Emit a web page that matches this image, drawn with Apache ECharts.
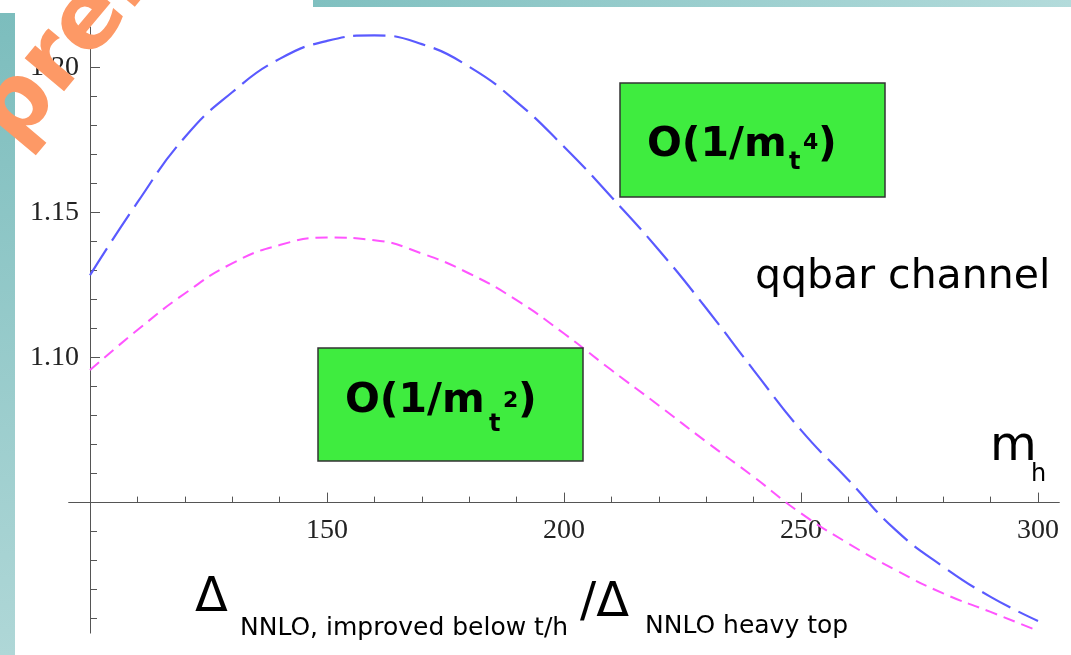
<!DOCTYPE html>
<html>
<head>
<meta charset="utf-8">
<script src="https://cdn.jsdelivr.net/npm/echarts@6/dist/echarts.min.js"></script>
<style>
html,body{margin:0;padding:0;background:#fff;}
#c{width:1071px;height:655px;}
</style>
</head>
<body>
<div id="c"></div>
<script>
// Higgs mass m_h (GeV)
const mh = [100,110,120,130,140,150,160,170,180,190,200,210,220,230,240,250,260,270,280,290,300];
// O(1/m_t^4) ratio (blue, long dash)
const ratioO4 = [1.1284,1.1535,1.1760,1.1915,1.2030,1.2092,1.2111,1.2081,1.2003,1.1882,1.1727,1.1554,1.1371,1.1170,1.0957,1.0750,1.0578,1.0405,1.0279,1.0175,1.0092];
// O(1/m_t^2) ratio (magenta, short dash)
const ratioO2 = [1.0957,1.1095,1.1221,1.1325,1.1388,1.1414,1.1405,1.1359,1.1290,1.1198,1.1083,1.0957,1.0835,1.0710,1.0589,1.0463,1.0359,1.0267,1.0187,1.0123,1.0058];
// tick values
const yMajorTicks = [1.10,1.15,1.20];
const yMinorTicks = [1.01,1.02,1.03,1.04,1.06,1.07,1.08,1.09,1.11,1.12,1.13,1.14,1.16,1.17,1.18,1.19];
const xMajorTicks = [150,200,250,300];
const xMinorTicks = [110,120,130,140,160,170,180,190,210,220,230,240,260,270,280,290];

const chart = echarts.init(document.getElementById('c'), null, {renderer:'canvas'});
const AX = '#555';
const serif = '"Liberation Serif","DejaVu Serif",serif';
const sans = '"DejaVu Sans",Verdana,sans-serif';

function txt(text, x, baseline, size, opts) {
  opts = opts || {};
  return {
    type: 'text', x: x, y: baseline, z: opts.z || 50,
    rotation: opts.rotation || 0,
    style: {
      text: text, x: 0, y: -0.346 * size,
      fill: opts.fill || '#000',
      font: (opts.bold ? 'bold ' : '') + size + 'px ' + sans,
      textAlign: 'left', textVerticalAlign: 'middle', verticalAlign: 'middle'
    }
  };
}

const option = {
  animation: false,
  backgroundColor: '#fff',
  grid: [
    {left: 90, top: 27, width: 948, height: 606.1, outerBoundsMode: 'none', containLabel: false},
    {left: 68.67, top: 27, width: 990.66, height: 475.6, outerBoundsMode: 'none', containLabel: false}
  ],
  xAxis: [
    {type: 'value', gridIndex: 0, min: 100, max: 300, show: false},
    {type: 'value', gridIndex: 1, min: 95.5, max: 304.5, position: 'bottom',
      axisLine: {show: true, onZero: false, lineStyle: {color: AX, width: 1}},
      axisTick: {show: true, inside: true, length: 10, customValues: xMajorTicks, lineStyle: {color: AX}},
      axisLabel: {show: true, customValues: xMajorTicks, margin: 14, color: '#222',
        fontFamily: serif, fontSize: 28, formatter: v => String(v)},
      splitLine: {show: false}},
    {type: 'value', gridIndex: 1, min: 95.5, max: 304.5, position: 'bottom',
      axisLine: {show: false, onZero: false},
      axisTick: {show: true, inside: true, length: 6, customValues: xMinorTicks, lineStyle: {color: AX}},
      axisLabel: {show: false},
      splitLine: {show: false}}
  ],
  yAxis: [
    {type: 'value', gridIndex: 0, min: 1.005, max: 1.214, position: 'left', offset: 0,
      axisLine: {show: true, onZero: false, lineStyle: {color: AX, width: 1}},
      axisTick: {show: true, inside: true, length: 10, customValues: yMajorTicks, lineStyle: {color: AX}},
      axisLabel: {show: true, customValues: yMajorTicks, margin: 11, color: '#222',
        fontFamily: serif, fontSize: 28, formatter: v => v.toFixed(2)},
      splitLine: {show: false}},
    {type: 'value', gridIndex: 0, min: 1.005, max: 1.214, position: 'left', offset: 0,
      axisLine: {show: false, onZero: false},
      axisTick: {show: true, inside: true, length: 7, customValues: yMinorTicks, lineStyle: {color: AX}},
      axisLabel: {show: false},
      splitLine: {show: false}},
    {type: 'value', gridIndex: 1, min: 0, max: 1, show: false}
  ],
  series: [
    {name: 'O(1/mt^4)', type: 'line', xAxisIndex: 0, yAxisIndex: 0, smooth: true,
      showSymbol: false, symbol: 'none',
      data: mh.map((x, i) => [x, ratioO4[i]]),
      lineStyle: {color: '#5a5aff', width: 2.2, type: [32, 9]}},
    {name: 'O(1/mt^2)', type: 'line', xAxisIndex: 0, yAxisIndex: 0, smooth: true,
      showSymbol: false, symbol: 'none',
      data: mh.map((x, i) => [x, ratioO2[i]]),
      lineStyle: {color: '#ff55ff', width: 2, type: [12, 7]}}
  ],
  graphic: {elements: [
    // slide decoration strips
    {type: 'rect', z: 0, shape: {x: 0, y: 13, width: 15, height: 642},
      style: {fill: new echarts.graphic.LinearGradient(0, 0, 0, 1, [{offset: 0, color: '#7cbdbd'}, {offset: 1, color: '#afd7d7'}])}},
    {type: 'rect', z: 0, shape: {x: 313, y: 0, width: 758, height: 7},
      style: {fill: new echarts.graphic.LinearGradient(0, 0, 1, 0, [{offset: 0, color: '#80c0c0'}, {offset: 1, color: '#b3dbdb'}])}},
    // green boxes
    {type: 'rect', z: 40, shape: {x: 620, y: 83, width: 265, height: 114},
      style: {fill: '#3fec3f', stroke: '#333', lineWidth: 1.5}},
    {type: 'rect', z: 40, shape: {x: 318, y: 348, width: 265, height: 113},
      style: {fill: '#3fec3f', stroke: '#333', lineWidth: 1.5}},
    txt('O(1/m', 647, 160, 41, {bold: true}),
    txt('t', 789, 171, 24, {bold: true}),
    txt('4', 803, 151, 22, {bold: true}),
    txt(')', 818, 160, 41, {bold: true}),
    txt('O(1/m', 345, 416, 41, {bold: true}),
    txt('t', 489, 433, 24, {bold: true}),
    txt('2', 503, 409, 22, {bold: true}),
    txt(')', 518, 416, 41, {bold: true}),
    // annotations
    txt('qqbar channel', 755, 292, 41),
    txt('m', 990, 464, 48),
    txt('h', 1031, 483, 24),
    txt('\u0394', 195, 615, 48),
    txt('NNLO, improved below t/h', 240, 637, 25),
    txt('/\u0394', 580, 620, 48),
    txt('NNLO heavy top', 645, 635, 25),
    // watermark
    txt('preliminary', 22, 154, 94, {bold: true, fill: '#fd9966', rotation: 0.873, z: 100})
  ]}
};
chart.setOption(option);
</script>
</body>
</html>
